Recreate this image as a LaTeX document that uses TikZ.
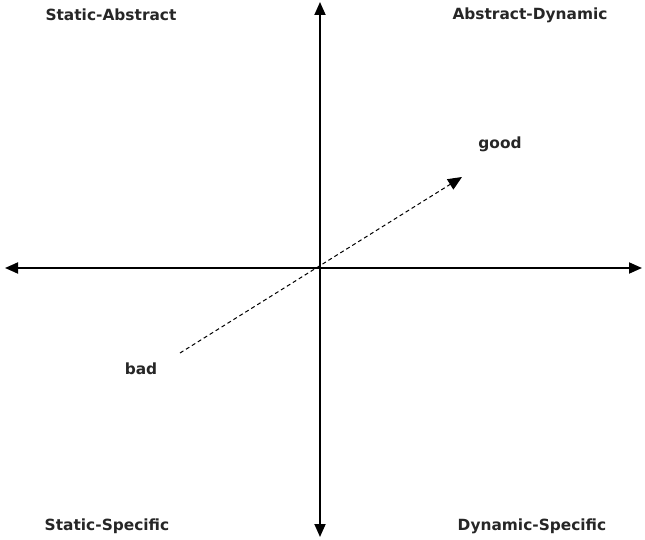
\documentclass[tikz,border=0pt]{standalone}
\usepackage{fontspec}
\setmainfont{DejaVu Sans}
\usetikzlibrary{arrows.meta}
\begin{document}
\begin{tikzpicture}[x=1pt,y=-1pt,
  axis/.style={line width=1.8pt,{Triangle[length=13pt,width=11pt]}-{Triangle[length=13pt,width=11pt]}},
  trend/.style={line width=1pt,dash pattern=on 4pt off 3pt,-{Triangle[length=14pt,width=12pt]}},
  lbl/.style={font=\bfseries\fontsize{15.4}{17}\selectfont,text=black!85,inner sep=0pt}]
\useasboundingbox (0,0) rectangle (645,540);
\coordinate (top) at (320,2);
\coordinate (bottom) at (320,537);
\coordinate (left) at (5,268);
\coordinate (right) at (642,268);
\coordinate (from) at (180,353);
\coordinate (to) at (462,177);
\draw[axis] (top) -- (bottom);
\draw[axis] (left) -- (right);
\draw[trend] (from) -- (to);
\node[lbl] (sa) at (111,15) {Static-Abstract};
\node[lbl] (ad) at (530,15) {Abstract-Dynamic};
\node[lbl] (good) at (500,144) {good};
\node[lbl] (bad) at (141,369) {bad};
\node[lbl] (ss) at (107,526) {Static-Specific};
\node[lbl] (ds) at (532,526) {Dynamic-Specific};
\end{tikzpicture}
\end{document}
